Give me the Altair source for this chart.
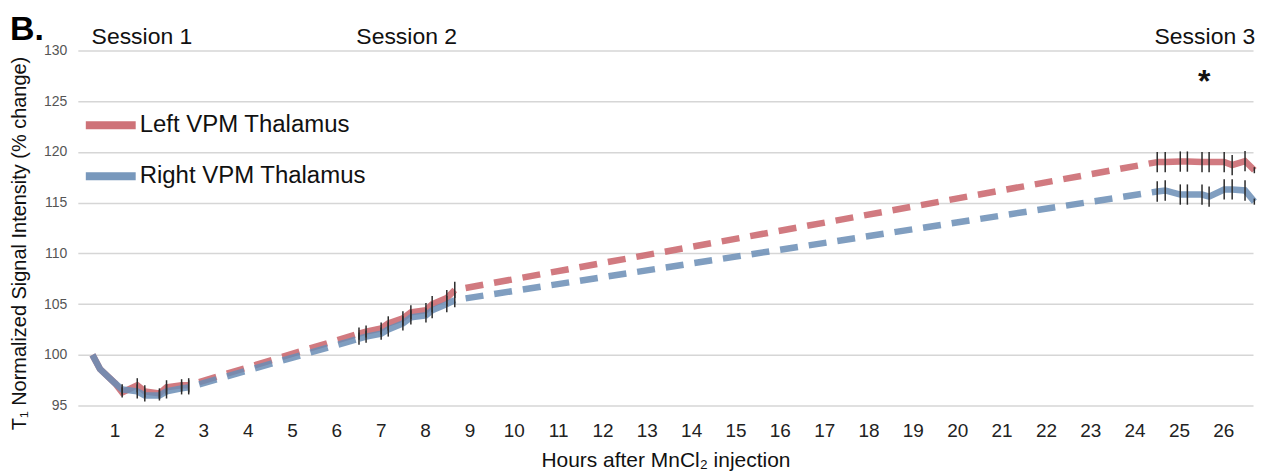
import altair as alt
import pandas as pd

series_names = ["Left VPM Thalamus", "Right VPM Thalamus"]
series_colors = ["#c9636a", "#6a8db5"]

# Session 1
s1_hours = [0.5, 0.67, 1.01, 1.17, 1.51, 1.68, 2.01, 2.17, 2.51, 2.67]
s1_left = [100.0, 98.6, 97.2, 96.3, 97.0, 96.4, 96.2, 96.8, 97.0, 97.0]
s1_right = [100.0, 98.6, 97.2, 96.6, 96.4, 96.0, 96.0, 96.4, 96.7, 96.8]
s1_left_err = [0.0, 0.0, 0.0, 0.5, 0.7, 0.6, 0.5, 0.7, 0.6, 0.7]
s1_right_err = [0.0, 0.0, 0.0, 0.5, 0.7, 0.6, 0.5, 0.7, 0.6, 0.7]

# Session 2
s2_hours = [6.51, 6.67, 7.01, 7.17, 7.50, 7.68, 8.02, 8.16, 8.49, 8.67]
s2_left = [102.1, 102.3, 102.6, 103.1, 103.6, 104.2, 104.4, 105.0, 105.6, 106.4]
s2_right = [101.6, 101.8, 102.1, 102.5, 103.1, 103.7, 103.9, 104.4, 105.0, 105.4]
s2_left_err = [0.6, 0.6, 0.6, 0.7, 0.7, 0.7, 0.7, 0.8, 0.8, 0.8]
s2_right_err = [0.6, 0.6, 0.6, 0.7, 0.7, 0.7, 0.7, 0.8, 0.8, 0.7]

# Session 3
s3_hours = [24.51, 24.69, 25.03, 25.19, 25.52, 25.68, 26.02, 26.20, 26.49, 26.70]
s3_left = [119.0, 119.0, 119.05, 119.05, 119.0, 119.0, 119.0, 118.7, 119.1, 118.2]
s3_right = [116.1, 116.2, 115.8, 115.8, 115.8, 115.6, 116.3, 116.3, 116.2, 115.1]
s3_left_err = [1.0, 1.0, 1.0, 1.0, 1.0, 1.0, 1.0, 1.0, 1.0, 0.3]
s3_right_err = [1.0, 1.0, 1.0, 1.0, 1.0, 1.0, 1.0, 1.0, 1.0, 0.3]

x_ticks = list(range(1, 27))
y_ticks = [95, 100, 105, 110, 115, 120, 125, 130]

session_labels = ["Session 1", "Session 2", "Session 3"]
session_label_hours = [0.48, 6.45, 24.45]

sessions = [
    ("s1", s1_hours, s1_left, s1_right, s1_left_err, s1_right_err),
    ("s2", s2_hours, s2_left, s2_right, s2_left_err, s2_right_err),
    ("s3", s3_hours, s3_left, s3_right, s3_left_err, s3_right_err),
]

rows = []
for sid, hrs, lv, rv, le, re in sessions:
    for h, v, e in zip(hrs, lv, le):
        rows.append({"hour": h, "value": v, "err": e, "series": series_names[0], "session": sid})
    for h, v, e in zip(hrs, rv, re):
        rows.append({"hour": h, "value": v, "err": e, "series": series_names[1], "session": sid})
df = pd.DataFrame(rows)
df["lo"] = df["value"] - df["err"]
df["hi"] = df["value"] + df["err"]
df["order"] = df["series"].map({series_names[0]: 0, series_names[1]: 1})

# dashed connectors between sessions (end of one session to start of the next)
drows = []
for seg, (a, b) in enumerate([(sessions[0], sessions[1]), (sessions[1], sessions[2])]):
    for k, name in enumerate(series_names):
        va = a[2 + k]
        vb = b[2 + k]
        drows.append({"hour": a[1][-1], "value": va[-1], "series": name, "seg": f"{seg}-{k}"})
        drows.append({"hour": b[1][0], "value": vb[0], "series": name, "seg": f"{seg}-{k}"})
ddf = pd.DataFrame(drows)

sess_df = pd.DataFrame({"label": session_labels, "hour": session_label_hours, "value": [130.6] * 3})
star_df = pd.DataFrame({"label": ["*"], "hour": [25.57], "value": [125.9]})

xscale = alt.Scale(domain=[0.17, 26.67], nice=False, zero=False)
yscale = alt.Scale(domain=[95, 130], nice=False, zero=False)
cscale = alt.Scale(domain=series_names, range=series_colors)

legend = alt.Legend(
    title=None,
    orient="none",
    legendX=4,
    legendY=46,
    symbolType="stroke",
    symbolSize=2500,
    symbolStrokeWidth=8,
    symbolOpacity=0.9,
    labelFontSize=24,
    labelColor="#111111",
    labelOffset=0,
    rowPadding=6,
    padding=0,
    labelLimit=400,
)

x_enc = alt.X(
    "hour:Q",
    scale=xscale,
    axis=alt.Axis(
        values=x_ticks,
        title="Hours after MnCl₂ injection",
        grid=False,
        domain=False,
        ticks=False,
        tickSize=0,
        labelPadding=16,
        labelFontSize=19,
        labelColor="#222222",
        titleFontSize=21,
        titleFontWeight="normal",
        titleColor="#111111",
        titleY=55,
        titleBaseline="middle",
        labelFlush=False,
    ),
)
y_enc = alt.Y(
    "value:Q",
    scale=yscale,
    axis=alt.Axis(
        values=y_ticks,
        title="T₁ Normalized Signal Intensity (% change)",
        grid=True,
        gridColor="#d6d6d6",
        gridWidth=1.5,
        domain=False,
        ticks=False,
        tickSize=0,
        labelPadding=11,
        labelFontSize=14,
        labelColor="#555555",
        titleFontSize=20,
        titleFontWeight="normal",
        titleColor="#111111",
        titleX=-58,
        titleY=193,
        titleAlign="center",
        titleBaseline="middle",
        titleAngle=270,
    ),
)

dashed = alt.Chart(ddf).mark_line(
    strokeWidth=6.5, strokeDash=[18, 11], strokeDashOffset=18, opacity=0.85
).encode(
    x=alt.X("hour:Q", scale=xscale),
    y=alt.Y("value:Q", scale=yscale),
    color=alt.Color("series:N", scale=cscale, legend=legend),
    detail="seg:N",
)

solid = alt.Chart(df).mark_line(strokeWidth=6.5, opacity=0.85).encode(
    x=x_enc,
    y=y_enc,
    color=alt.Color("series:N", scale=cscale, legend=legend),
    detail="session:N",
    order="order:Q",
)

errs = alt.Chart(df[df["err"] > 0]).mark_rule(color="#2b2b2b", strokeWidth=1.5).encode(
    x=alt.X("hour:Q", scale=xscale),
    y=alt.Y("lo:Q", scale=yscale),
    y2="hi:Q",
)

sess_text = alt.Chart(sess_df).mark_text(
    align="left", baseline="alphabetic", fontSize=23, color="#111111"
).encode(
    x=alt.X("hour:Q", scale=xscale),
    y=alt.Y("value:Q", scale=yscale),
    text="label:N",
)

star_text = alt.Chart(star_df).mark_text(
    align="center", baseline="alphabetic", fontSize=32, fontWeight="bold", color="#111111"
).encode(
    x=alt.X("hour:Q", scale=xscale),
    y=alt.Y("value:Q", scale=yscale),
    text="label:N",
)

b_text = alt.Chart(pd.DataFrame({"label": ["B."]})).mark_text(
    align="left", baseline="alphabetic", fontSize=34, fontWeight="bold", color="#000000"
).encode(
    x=alt.value(-68),
    y=alt.value(-10),
    text="label:N",
)

chart = (
    alt.layer(dashed, solid, errs, sess_text, star_text, b_text)
    .properties(
        width=1178,
        height=356,
        autosize=alt.AutoSizeParams(type="none"),
        padding={"left": 70, "top": 42, "right": 4, "bottom": 66},
    )
    .configure(font="Liberation Sans")
    .configure_view(stroke=None)
)

chart.save("out.html", embed_options={"renderer": "svg", "actions": False})
